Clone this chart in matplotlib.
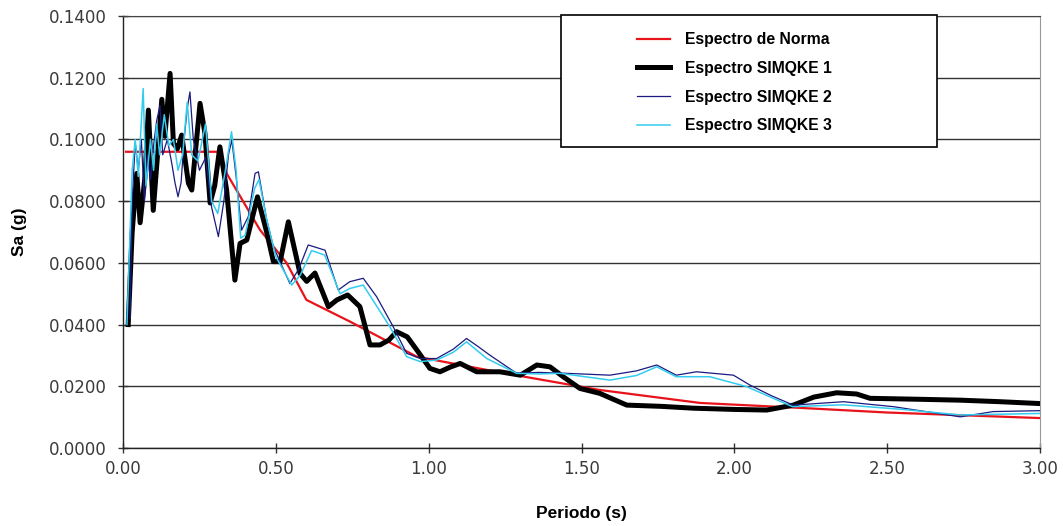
import matplotlib
matplotlib.use("Agg")
from matplotlib import pyplot as plt
from matplotlib.patches import Rectangle
from matplotlib.ticker import FormatStrFormatter, MultipleLocator

# Periodo (s) / Sa (g)
periodo_norma = [0.010, 0.317, 0.339, 0.448, 0.535, 0.600, 0.742, 0.961, 1.233, 1.560,
                 1.888, 2.215, 2.500, 3.000]
sa_norma = [0.096, 0.096, 0.089, 0.0707, 0.060, 0.048, 0.041, 0.0296, 0.0245, 0.0188,
            0.0146, 0.0130, 0.0115, 0.0097]

periodo_1 = [0.017, 0.030, 0.045, 0.056, 0.072, 0.083, 0.099, 0.113, 0.127, 0.137,
             0.154, 0.165, 0.178, 0.192, 0.214, 0.225, 0.252, 0.268, 0.285, 0.300,
             0.317, 0.339, 0.366, 0.383, 0.405, 0.440, 0.470, 0.492, 0.514, 0.541,
             0.579, 0.601, 0.628, 0.672, 0.700, 0.735, 0.775, 0.808, 0.841, 0.870,
             0.895, 0.930, 0.961, 1.004, 1.037, 1.070, 1.103, 1.157, 1.233, 1.300,
             1.354, 1.397, 1.440, 1.495, 1.560, 1.648, 1.760, 1.866, 2.000, 2.106,
             2.193, 2.260, 2.335, 2.400, 2.444, 2.600, 2.739, 2.870, 3.000]
sa_1 = [0.040, 0.070, 0.089, 0.073, 0.088, 0.1095, 0.077, 0.095, 0.113, 0.101,
        0.1214, 0.0987, 0.097, 0.1014, 0.0858, 0.0836, 0.1117, 0.102, 0.0794, 0.085,
        0.0976, 0.0836, 0.0544, 0.0663, 0.0674, 0.0814, 0.070, 0.0604, 0.0604, 0.0733,
        0.0566, 0.0540, 0.0567, 0.0458, 0.0480, 0.0496, 0.0458, 0.0334, 0.0334, 0.0350,
        0.0377, 0.0360, 0.0318, 0.0258, 0.0247, 0.0262, 0.0274, 0.0247, 0.0247, 0.0236,
        0.0269, 0.0263, 0.0231, 0.0193, 0.0177, 0.0139, 0.0135, 0.0129, 0.0125, 0.0123,
        0.0139, 0.0165, 0.0179, 0.0175, 0.0161, 0.0158, 0.0155, 0.0150, 0.0144]

periodo_2 = [0.023, 0.030, 0.040, 0.050, 0.060, 0.070, 0.080, 0.090, 0.100, 0.110,
             0.121, 0.130, 0.145, 0.160, 0.170, 0.180, 0.190, 0.200, 0.210, 0.219,
             0.230, 0.250, 0.270, 0.290, 0.312, 0.330, 0.345, 0.356, 0.370, 0.388,
             0.410, 0.432, 0.443, 0.470, 0.492, 0.546, 0.575, 0.606, 0.661, 0.704,
             0.742, 0.786, 0.830, 0.884, 0.928, 0.972, 1.026, 1.080, 1.124, 1.160,
             1.200, 1.288, 1.360, 1.452, 1.593, 1.680, 1.746, 1.810, 1.876, 1.997,
             2.051, 2.120, 2.193, 2.357, 2.520, 2.739, 2.847, 3.000]
sa_2 = [0.042, 0.080, 0.099, 0.090, 0.100, 0.080, 0.095, 0.087, 0.098, 0.106,
        0.111, 0.095, 0.100, 0.092, 0.086, 0.0814, 0.086, 0.100, 0.110, 0.1154,
        0.100, 0.090, 0.094, 0.078, 0.0685, 0.080, 0.095, 0.0998, 0.088, 0.0706,
        0.075, 0.089, 0.0895, 0.074, 0.0652, 0.0533, 0.058, 0.0658, 0.0641, 0.0512,
        0.0539, 0.0550, 0.049, 0.0393, 0.0307, 0.0290, 0.0290, 0.032, 0.0355, 0.033,
        0.0301, 0.0242, 0.0245, 0.0242, 0.0236, 0.0250, 0.0269, 0.0236, 0.0247, 0.0236,
        0.0204, 0.0170, 0.0139, 0.0150, 0.0134, 0.0101, 0.0118, 0.0121]

periodo_3 = [0.013, 0.030, 0.040, 0.050, 0.066, 0.075, 0.090, 0.100, 0.110, 0.120,
             0.135, 0.150, 0.165, 0.180, 0.195, 0.210, 0.225, 0.245, 0.270, 0.290,
             0.310, 0.335, 0.355, 0.370, 0.385, 0.400, 0.430, 0.445, 0.470, 0.500,
             0.552, 0.580, 0.617, 0.660, 0.710, 0.742, 0.786, 0.873, 0.928, 0.972,
             1.026, 1.080, 1.124, 1.190, 1.288, 1.360, 1.430, 1.593, 1.680, 1.746,
             1.810, 1.920, 2.040, 2.190, 2.357, 2.550, 2.740, 3.000]
sa_3 = [0.040, 0.090, 0.100, 0.088, 0.1165, 0.085, 0.100, 0.090, 0.105, 0.095,
        0.108, 0.098, 0.100, 0.090, 0.095, 0.112, 0.095, 0.093, 0.105, 0.080,
        0.076, 0.090, 0.1025, 0.090, 0.068, 0.069, 0.084, 0.087, 0.074, 0.062,
        0.0528, 0.056, 0.0640, 0.0625, 0.0500, 0.0517, 0.0528, 0.0393, 0.0296, 0.0280,
        0.0285, 0.031, 0.0344, 0.0290, 0.0242, 0.0240, 0.0242, 0.0220, 0.0235, 0.0263,
        0.0231, 0.0231, 0.0199, 0.0134, 0.0140, 0.0125, 0.0107, 0.0112]

series = [
	("Espectro de Norma", periodo_norma, sa_norma, "#e8131b", 1.6),
	("Espectro SIMQKE 1", periodo_1, sa_1, "black", 3.6),
	("Espectro SIMQKE 2", periodo_2, sa_2, "#1a1a80", 0.9),
	("Espectro SIMQKE 3", periodo_3, sa_3, "#33ccee", 1.1),
]

fig = plt.figure(figsize=(10.63, 5.26), dpi=100)
ax = fig.add_axes([123 / 1063, 1 - 448 / 526, 917 / 1063, 432 / 526])

for label, x, y, color, lw in series:
	ax.plot(x, y, color=color, lw=lw, label=label, solid_joinstyle="round", zorder=4)

ax.set_xlim(0, 3.0)
ax.set_ylim(0, 0.14)
ax.xaxis.set_major_locator(MultipleLocator(0.5))
ax.yaxis.set_major_locator(MultipleLocator(0.02))
ax.xaxis.set_major_formatter(FormatStrFormatter("%.2f"))
ax.yaxis.set_major_formatter(FormatStrFormatter("%.4f"))
ax.yaxis.grid(True, color="#333333", lw=1.0)
ax.set_axisbelow(True)

for side in ("left", "bottom"):
	ax.spines[side].set_color("#222222")
	ax.spines[side].set_linewidth(1.0)
ax.spines["top"].set_color("#444444")
ax.spines["right"].set_color("#999999")
ax.spines["right"].set_linewidth(0.8)

ax.tick_params(axis="both", direction="inout", length=7, width=1.0, color="#333333",
               labelsize=12, labelcolor="#3a3a3a")
ax.tick_params(axis="y", pad=8)
ax.tick_params(axis="x", pad=5)
for lbl in ax.get_xticklabels() + ax.get_yticklabels():
	lbl.set_family("DejaVu Sans")

ax.set_xlabel("Periodo (s)", family="Liberation Sans", fontweight="bold",
              fontsize=12.5, labelpad=20)
ax.set_ylabel("Sa (g)", family="Liberation Sans", fontweight="bold",
              fontsize=12.5, labelpad=16)

# white box behind the legend, covering the grid lines
box = Rectangle((438 / 917, 301 / 432), 376 / 917, 132 / 432, transform=ax.transAxes,
                facecolor="white", edgecolor="black", lw=1.2, zorder=5, clip_on=False)
ax.add_patch(box)
leg = ax.legend(loc="upper left", bbox_to_anchor=(514 / 917, 416 / 432), frameon=False,
                prop={"family": "Liberation Sans", "weight": "bold", "size": 11.3},
                handlelength=2.1, handletextpad=0.95, labelspacing=0.88,
                borderaxespad=0, borderpad=0)
leg.set_zorder(6)

fig.savefig("out.png", dpi=100)
